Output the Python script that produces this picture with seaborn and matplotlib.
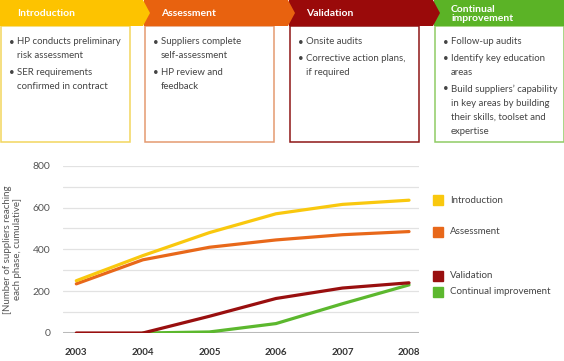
import matplotlib
matplotlib.use("Agg")
import matplotlib.pyplot as plt
from matplotlib.patches import Polygon, Rectangle
import numpy as np
import pandas as pd
import seaborn as sns

YEARS = [2003, 2004, 2005, 2006, 2007, 2008]
PHASES = ["Introduction", "Assessment", "Validation", "Continual improvement"]
INTRODUCTION = [250, 370, 480, 570, 615, 635]
ASSESSMENT = [235, 350, 410, 445, 470, 485]
VALIDATION = [0, 0, 80, 165, 215, 240]
CONTINUAL = [np.nan, 0, 5, 45, 140, 230]

HEADER_COLORS = ["#FDC300", "#E8620F", "#9A0A0A", "#5BB326"]
BORDER_COLORS = ["#F2D65E", "#E49A70", "#8E1616", "#8FCB65"]
LINE_COLORS = ["#F9C80E", "#E8681A", "#990F0F", "#5CB82E"]

HEADERS = ["Introduction", "Assessment", "Validation", "Continual\nimprovement"]
BULLETS = [
    [["HP conducts preliminary", "risk assessment"],
     ["SER requirements", "confirmed in contract"]],
    [["Suppliers complete", "self-assessment"],
     ["HP review and", "feedback"]],
    [["Onsite audits"],
     ["Corrective action plans,", "if required"]],
    [["Follow-up audits"],
     ["Identify key education", "areas"],
     ["Build suppliers\u2019 capability", "in key areas by building",
      "their skills, toolset and", "expertise"]],
]

W, H = 564, 361
BOX_LEFT = [0, 144, 289, 434]
BOX_W = 129


def draw_process(fig):
    ov = fig.add_axes([0, 0, 1, 1], zorder=0)
    ov.set_xlim(0, W)
    ov.set_ylim(H, 0)
    ov.axis("off")
    head_h = 26
    for i in range(4):
        x0 = BOX_LEFT[i]
        ov.add_patch(Rectangle((x0 + 0.5, head_h), BOX_W, 142 - head_h,
                               facecolor="white", edgecolor=BORDER_COLORS[i],
                               lw=1.1))
    # headers drawn right to left so each chevron overlaps the next one
    for i in reversed(range(4)):
        x0 = BOX_LEFT[i]
        if i < 3:
            x1 = BOX_LEFT[i + 1]
            pts = [(x0, 0), (x1 - 1, 0), (x1 + 6, head_h / 2),
                   (x1 - 1, head_h), (x0, head_h)]
        else:
            pts = [(x0, 0), (W, 0), (W, head_h), (x0, head_h)]
        ov.add_patch(Polygon(pts, closed=True, facecolor=HEADER_COLORS[i],
                             edgecolor="none"))
        ov.text(x0 + 17, head_h / 2 + 1, HEADERS[i], color="white",
                fontsize=7.5, fontweight="bold", va="center", ha="left",
                linespacing=1.0)
        y = 42
        for para in BULLETS[i]:
            ov.text(x0 + 9, y, "\u2022", color="#444444", fontsize=6.9,
                    va="center", ha="left")
            for line in para:
                ov.text(x0 + 17, y, line, color="#444444", fontsize=6.9,
                        va="center", ha="left")
                y += 14
            y += 2.5


def main():
    sns.set_theme(style="white")
    plt.rcParams["font.family"] = ["Lato", "DejaVu Sans"]

    df = pd.DataFrame({
        "year": YEARS * 4,
        "value": INTRODUCTION + ASSESSMENT + VALIDATION + CONTINUAL,
        "phase": [p for p in PHASES for _ in YEARS],
    })

    fig = plt.figure(figsize=(W / 100, H / 100), dpi=100)
    draw_process(fig)

    ax = fig.add_axes([63 / W, 1 - 333 / H, (419 - 63) / W, (333 - 165.7) / H],
                      zorder=1)
    ax.patch.set_alpha(0)
    order = ["Continual improvement", "Validation", "Assessment", "Introduction"]
    sns.lineplot(data=df, x="year", y="value", hue="phase", hue_order=order,
                 palette=dict(zip(PHASES, LINE_COLORS)), lw=2.3, ax=ax,
                 legend=False)

    ax.set_xlim(2002.8, 2008.15)
    ax.set_ylim(0, 800)
    ax.set_yticks(range(0, 801, 200))
    ax.set_yticks(range(100, 800, 200), minor=True)
    ax.grid(axis="y", which="both", color="#E2E2E2", lw=0.9)
    ax.set_axisbelow(True)
    for s in ax.spines.values():
        s.set_visible(False)
    ax.axhline(0, color="#B5B5B5", lw=2.2, zorder=0.5)
    ax.set_xticks(YEARS)
    ax.tick_params(axis="x", length=0, pad=11, labelsize=7, labelcolor="#333333")
    for t in ax.get_xticklabels():
        t.set_fontweight("bold")
    ax.tick_params(axis="y", which="both", length=0, pad=9, labelsize=7.5,
                   labelcolor="#555555")
    ax.set_xlabel("")
    ax.set_ylabel("[Number of suppliers reaching\neach phase, cumulative]",
                  fontsize=7, color="#555555", labelpad=8, linespacing=1.1)

    # legend entries next to the line ends, pushed apart when they collide
    ends = [INTRODUCTION[-1], ASSESSMENT[-1], VALIDATION[-1], CONTINUAL[-1]]
    pos = list(ends)
    if abs(pos[2] - pos[3]) < 75:
        mid = (pos[2] + pos[3]) / 2
        pos[2], pos[3] = mid + 38, mid - 38
    tr = ax.get_yaxis_transform()
    for name, col, y in zip(PHASES, LINE_COLORS, pos):
        ax.plot([1.052], [y], marker="s", ms=6.5, color=col, transform=tr,
                clip_on=False)
        ax.text(1.087, y, name, transform=tr, fontsize=7, color="#444444",
                va="center", ha="left")

    fig.savefig("out.png", dpi=100)
    plt.close(fig)


if __name__ == "__main__":
    main()
